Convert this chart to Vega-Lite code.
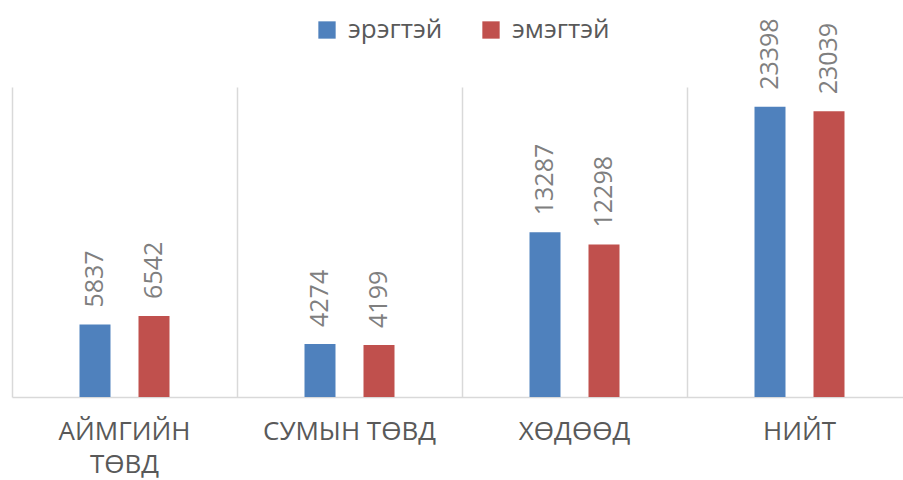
{
  "$schema": "https://vega.github.io/schema/vega-lite/v6.json",
  "width": 900,
  "height": 310,
  "autosize": {"type": "none"},
  "padding": {"left": 12, "top": 87, "right": 0, "bottom": 83},
  "background": "white",
  "config": {"view": {"stroke": null}, "font": "Open Sans"},
  "data": {"values": [
    {"cat": "АЙМГИЙН ТӨВД", "sex": "эрэгтэй", "value": 5837},
    {"cat": "АЙМГИЙН ТӨВД", "sex": "эмэгтэй", "value": 6542},
    {"cat": "СУМЫН ТӨВД", "sex": "эрэгтэй", "value": 4274},
    {"cat": "СУМЫН ТӨВД", "sex": "эмэгтэй", "value": 4199},
    {"cat": "ХӨДӨӨД", "sex": "эрэгтэй", "value": 13287},
    {"cat": "ХӨДӨӨД", "sex": "эмэгтэй", "value": 12298},
    {"cat": "НИЙТ", "sex": "эрэгтэй", "value": 23398},
    {"cat": "НИЙТ", "sex": "эмэгтэй", "value": 23039}
  ]},
  "encoding": {
    "x": {
      "field": "cat", "type": "nominal", "sort": null, "title": null,
      "scale": {"paddingInner": 0, "paddingOuter": 0},
      "axis": {
        "grid": true, "gridColor": "#d9d9d9", "gridWidth": 1.5, "bandPosition": 0,
        "ticks": false, "domainColor": "#d9d9d9", "domainWidth": 1.5,
        "labelAngle": 0, "labelFontSize": 26, "labelColor": "#595959",
        "labelPadding": 21, "labelBaseline": "top", "labelLineHeight": 33,
        "labelExpr": "datum.label == 'АЙМГИЙН ТӨВД' ? ['АЙМГИЙН', 'ТӨВД'] : datum.label"
      }
    },
    "xOffset": {
      "field": "sex", "type": "nominal", "sort": ["эрэгтэй", "эмэгтэй"],
      "scale": {"range": [67.5, 157.5], "paddingInner": 0.4746, "paddingOuter": 0}
    },
    "y": {
      "field": "value", "type": "quantitative",
      "scale": {"domain": [0, 25000]},
      "axis": null
    }
  },
  "layer": [
    {
      "mark": {"type": "bar"},
      "encoding": {
        "color": {
          "field": "sex", "type": "nominal", "sort": ["эрэгтэй", "эмэгтэй"],
          "scale": {"domain": ["эрэгтэй", "эмэгтэй"], "range": ["#4f81bd", "#c0504d"]},
          "legend": {
            "orient": "none", "legendX": 302, "legendY": -70, "direction": "horizontal",
            "title": null, "symbolType": "square", "symbolSize": 300,
            "symbolStrokeWidth": 0, "labelFontSize": 26, "labelColor": "#595959",
            "columnPadding": 35, "labelOffset": 8
          }
        }
      }
    },
    {
      "mark": {"type": "text", "angle": -90, "align": "left", "baseline": "middle", "dx": 17, "fontSize": 25, "color": "#7f7f7f"},
      "encoding": {
        "text": {"field": "value", "type": "quantitative", "format": "d"}
      }
    }
  ]
}
